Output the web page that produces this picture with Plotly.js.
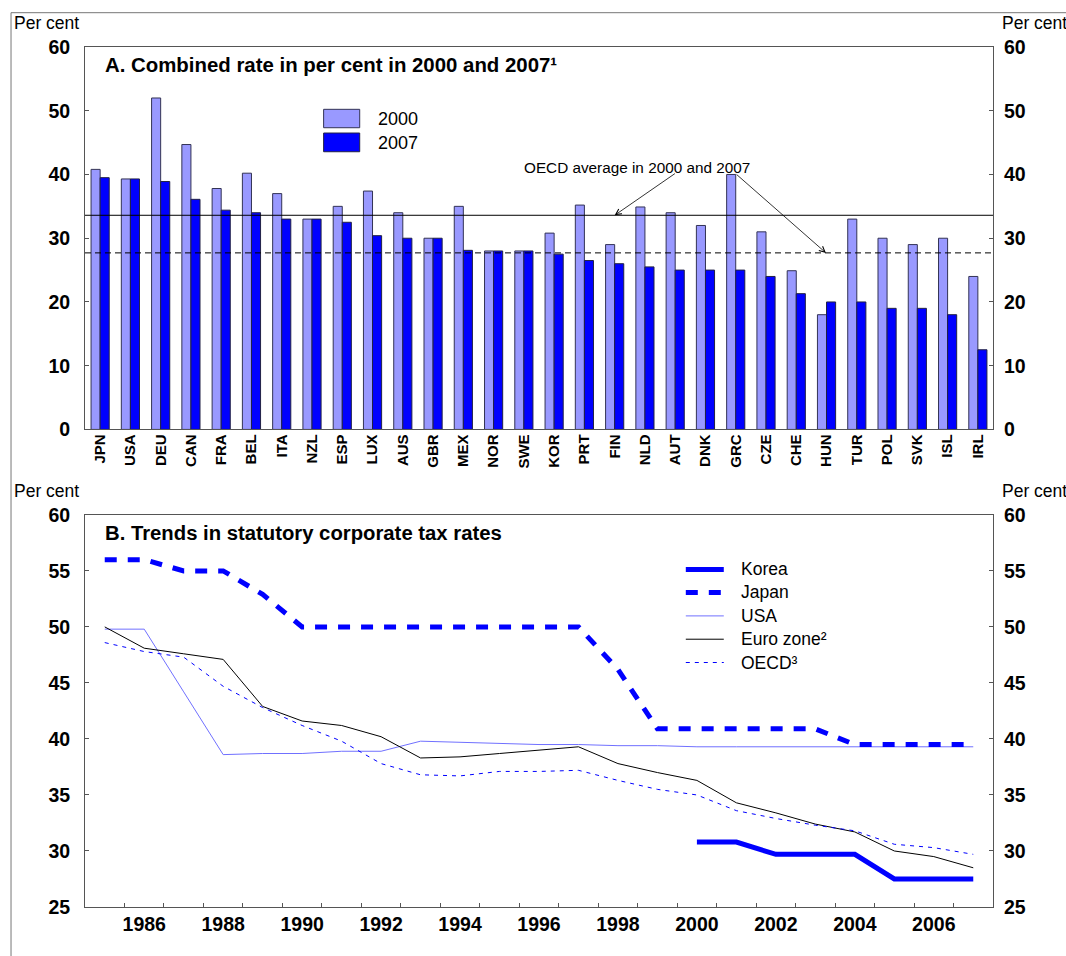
<!DOCTYPE html>
<html>
<head>
<meta charset="utf-8">
<script src="https://cdn.plot.ly/plotly-3.0.1.min.js"></script>
<style>
  html, body { margin: 0; padding: 0; background: #fff; }
  #chart { width: 1066px; height: 956px; }
</style>
</head>
<body>
<div id="chart"></div>
<script>
// ---------- Data ----------
const countries = ['JPN','USA','DEU','CAN','FRA','BEL','ITA','NZL','ESP','LUX','AUS','GBR','MEX','NOR','SWE','KOR','PRT','FIN','NLD','AUT','DNK','GRC','CZE','CHE','HUN','TUR','POL','SVK','ISL','IRL'];
const rate2000 = [40.8,39.3,52.0,44.7,37.8,40.2,37.0,33.0,35.0,37.4,34.0,30.0,35.0,28.0,28.0,30.8,35.2,29.0,34.9,34.0,32.0,40.0,31.0,24.9,18.0,33.0,30.0,29.0,30.0,24.0];
const rate2007 = [39.5,39.3,38.9,36.1,34.4,34.0,33.0,33.0,32.5,30.4,30.0,30.0,28.1,28.0,28.0,27.5,26.5,26.0,25.5,25.0,25.0,25.0,24.0,21.3,20.0,20.0,19.0,19.0,18.0,12.5];
const oecdAvg2000 = 33.6;
const oecdAvg2007 = 27.7;

const years = [1985,1986,1987,1988,1989,1990,1991,1992,1993,1994,1995,1996,1997,1998,1999,2000,2001,2002,2003,2004,2005,2006,2007];
const korea = [null,null,null,null,null,null,null,null,null,null,null,null,null,null,null,30.8,30.8,29.7,29.7,29.7,27.5,27.5,27.5];
const japan = [56,56,55,55,52.9,50,50,50,50,50,50,50,50,46.2,40.9,40.9,40.9,40.9,40.9,39.5,39.5,39.5,39.5];
const usa = [49.8,49.8,44.2,38.6,38.7,38.7,38.9,38.9,39.8,39.7,39.6,39.5,39.5,39.4,39.4,39.3,39.3,39.3,39.3,39.3,39.3,39.3,39.3];
const euroZone = [50.0,48.1,47.6,47.1,42.9,41.6,41.2,40.2,38.3,38.4,38.7,39.0,39.3,37.8,37.0,36.3,34.3,33.4,32.4,31.7,30.0,29.5,28.5];
const oecd = [48.6,47.8,47.3,44.7,42.8,41.2,39.8,37.8,36.8,36.7,37.1,37.1,37.2,36.3,35.5,35.0,33.6,32.9,32.3,31.8,30.6,30.3,29.7];

const yTicksA = [0,10,20,30,40,50,60];
const yTicksB = [25,30,35,40,45,50,55,60];
const xLabelYears = [1986,1988,1990,1992,1994,1996,1998,2000,2002,2004,2006];

// ---------- Styles ----------
const FONT = 'Liberation Sans, Arial, Helvetica, sans-serif';
const C2000 = '#9999FF';
const C2007 = '#0000FF';
const AXC = '#555555';

// layout geometry (pixels)
const W = 1066, H = 956;
const PL = 85, PR = 993.3, PT = 47, PB = 906.7;
const px = x => (x - PL) / (PR - PL);
const py = y => (PB - y) / (PB - PT);
const domA = [py(429.3), 1];
const domB = [0, py(514.7)];

const series = [
  {name: 'Korea', y: korea, color: '#0000FF', width: 5, dash: 'solid'},
  {name: 'Japan', y: japan, color: '#0000FF', width: 5, dash: '12px,11px'},
  {name: 'USA', y: usa, color: '#7070FF', width: 1, dash: 'solid'},
  {name: 'Euro zone²', y: euroZone, color: '#000000', width: 1, dash: 'solid'},
  {name: 'OECD³', y: oecd, color: '#0000FF', width: 1, dash: '4px,5px'}
];

const traces = [
  {type: 'bar', x: countries, y: rate2000, name: '2000', xaxis: 'x', yaxis: 'y',
   marker: {color: C2000, line: {color: '#333355', width: 1}}, hoverinfo: 'x+y'},
  {type: 'bar', x: countries, y: rate2007, name: '2007', xaxis: 'x', yaxis: 'y',
   marker: {color: C2007, line: {color: '#222244', width: 1}}, hoverinfo: 'x+y'},
  // invisible carriers so the right-hand axes are drawn
  {type: 'scatter', mode: 'markers', x: countries, y: rate2000, xaxis: 'x', yaxis: 'y3',
   marker: {opacity: 0, size: 1}, hoverinfo: 'skip', showlegend: false},
  {type: 'scatter', mode: 'markers', x: years, y: usa, xaxis: 'x2', yaxis: 'y4',
   marker: {opacity: 0, size: 1}, hoverinfo: 'skip', showlegend: false}
];
// draw lines in back-to-front order so thick lines sit on top
[2,3,4,1,0].forEach(i => {
  const s = series[i];
  traces.push({type: 'scatter', mode: 'lines', x: years, y: s.y, name: s.name,
    xaxis: 'x2', yaxis: 'y2', connectgaps: false,
    line: {color: s.color, width: s.width, dash: s.dash}});
});

const tickFont = {family: FONT, size: 19.5, color: '#000', weight: 'bold'};

function yAx(dom, range, ticks, side, overlay, anchor) {
  const a = {
    domain: dom, range: range, tickmode: 'array', tickvals: ticks,
    ticks: 'inside', ticklen: 4, tickcolor: AXC, tickwidth: 1,
    showgrid: false, zeroline: false, showline: !overlay, mirror: !overlay,
    linecolor: AXC, linewidth: 1, tickfont: tickFont, ticklabelstandoff: 10,
    side: side, anchor: anchor, fixedrange: true
  };
  if (overlay) a.overlaying = overlay;
  return a;
}

const shapes = [
  // outer frame
  {type: 'line', xref: 'paper', yref: 'paper', x0: px(11), x1: px(1100), y0: py(12.7), y1: py(12.7), line: {color: '#777', width: 1}},
  {type: 'line', xref: 'paper', yref: 'paper', x0: px(11), x1: px(11), y0: py(12.7), y1: py(1000), line: {color: '#777', width: 1}},
  // OECD averages
  {type: 'line', xref: 'x domain', yref: 'y', x0: 0, x1: 1, y0: oecdAvg2000, y1: oecdAvg2000, line: {color: '#000', width: 1}},
  {type: 'line', xref: 'x domain', yref: 'y', x0: 0, x1: 1, y0: oecdAvg2007, y1: oecdAvg2007, line: {color: '#000', width: 1, dash: '6px,4px'}},
  // legend A swatches
  {type: 'rect', xref: 'paper', yref: 'paper', x0: px(323.7), x1: px(359.8), y0: py(127.7), y1: py(109.3), fillcolor: C2000, line: {color: '#333355', width: 1}},
  {type: 'rect', xref: 'paper', yref: 'paper', x0: px(323.7), x1: px(359.8), y0: py(151.7), y1: py(133), fillcolor: C2007, line: {color: '#222244', width: 1}}
];

const annotations = [
  // Per cent labels
  {xref: 'paper', yref: 'paper', x: px(12), y: py(22.7), xanchor: 'left', yanchor: 'middle', text: 'Per cent', showarrow: false, font: {family: FONT, size: 17.5, color: '#000'}},
  {xref: 'paper', yref: 'paper', x: px(1000.7), y: py(22.7), xanchor: 'left', yanchor: 'middle', text: 'Per cent', showarrow: false, font: {family: FONT, size: 17.5, color: '#000'}},
  {xref: 'paper', yref: 'paper', x: px(12), y: py(490.7), xanchor: 'left', yanchor: 'middle', text: 'Per cent', showarrow: false, font: {family: FONT, size: 17.5, color: '#000'}},
  {xref: 'paper', yref: 'paper', x: px(1000.7), y: py(490.7), xanchor: 'left', yanchor: 'middle', text: 'Per cent', showarrow: false, font: {family: FONT, size: 17.5, color: '#000'}},
  // panel titles
  {xref: 'paper', yref: 'paper', x: px(103), y: py(65), xanchor: 'left', yanchor: 'middle', text: 'A. Combined rate in per cent in 2000 and 2007¹', showarrow: false, font: {family: FONT, size: 20.4, color: '#000', weight: 'bold'}},
  {xref: 'paper', yref: 'paper', x: px(103), y: py(533.3), xanchor: 'left', yanchor: 'middle', text: 'B. Trends in statutory corporate tax rates', showarrow: false, font: {family: FONT, size: 20.3, color: '#000', weight: 'bold'}},
  // legend A labels
  {xref: 'paper', yref: 'paper', x: px(376), y: py(118.5), xanchor: 'left', yanchor: 'middle', text: '2000', showarrow: false, font: {family: FONT, size: 18, color: '#000'}},
  {xref: 'paper', yref: 'paper', x: px(376), y: py(142.5), xanchor: 'left', yanchor: 'middle', text: '2007', showarrow: false, font: {family: FONT, size: 18, color: '#000'}},
  // OECD average annotation text and arrows
  {xref: 'paper', yref: 'paper', x: px(636.7), y: py(167.7), xanchor: 'center', yanchor: 'middle', text: 'OECD average in 2000 and 2007', showarrow: false, font: {family: FONT, size: 15.3, color: '#000'}},
  {xref: 'x', yref: 'y', x: 17.0, y: oecdAvg2000, axref: 'x', ayref: 'y', ax: 19.04, ay: 40.3, text: '', showarrow: true, arrowhead: 5, arrowsize: 1.4, arrowwidth: 0.8, arrowcolor: '#000', standoff: 0},
  {xref: 'x', yref: 'y', x: 23.98, y: oecdAvg2007, axref: 'x', ayref: 'y', ax: 20.98, ay: 40.2, text: '', showarrow: true, arrowhead: 5, arrowsize: 1.4, arrowwidth: 0.8, arrowcolor: '#000', standoff: 0}
];

// legend B (custom)
const legRowsY = [569.3, 592.3, 615.7, 639, 662.3];
series.forEach((s, i) => {
  shapes.push({type: 'line', xref: 'paper', yref: 'paper', x0: px(686), x1: px(724), y0: py(legRowsY[i]), y1: py(legRowsY[i]),
    line: {color: s.color, width: s.width, dash: s.dash}});
  annotations.push({xref: 'paper', yref: 'paper', x: px(739.5), y: py(legRowsY[i]), xanchor: 'left', yanchor: 'middle',
    text: s.name, showarrow: false, font: {family: FONT, size: 17.5, color: '#000'}});
});

const layout = {
  width: W, height: H,
  margin: {l: PL, r: W - PR, t: PT, b: H - PB, pad: 0},
  paper_bgcolor: '#fff', plot_bgcolor: '#fff',
  showlegend: false,
  barmode: 'group', bargap: 0.4, bargroupgap: 0,
  font: {family: FONT, color: '#000'},
  xaxis: {
    domain: [0, 1], anchor: 'y', type: 'category', tickangle: -90,
    range: [-0.5, countries.length - 0.5],
    tickfont: {family: FONT, size: 15, color: '#000', weight: 'bold'},
    ticks: '', showline: true, mirror: true, linecolor: AXC, linewidth: 1,
    showgrid: false, zeroline: false, fixedrange: true, ticklabelstandoff: -2
  },
  yaxis: yAx(domA, [0, 60], yTicksA, 'left', null, 'x'),
  yaxis3: yAx(domA, [0, 60], yTicksA, 'right', 'y', 'x'),
  xaxis2: {
    domain: [0, 1], anchor: 'y2', range: [1984.5, 2007.5],
    tickmode: 'array', tickvals: xLabelYears, ticks: '',
    minor: {tickmode: 'array', tickvals: years.slice(0, -1).map(y => y + 0.5), ticks: 'inside', ticklen: 4, tickcolor: AXC, tickwidth: 1, showgrid: false},
    tickfont: tickFont, showline: true, mirror: true, linecolor: AXC, linewidth: 1,
    showgrid: false, zeroline: false, fixedrange: true, ticklabelstandoff: 0
  },
  yaxis2: yAx(domB, [25, 60], yTicksB, 'left', null, 'x2'),
  yaxis4: yAx(domB, [25, 60], yTicksB, 'right', 'y2', 'x2'),
  shapes: shapes,
  annotations: annotations
};

Plotly.newPlot('chart', traces, layout, {displayModeBar: false, staticPlot: true});
</script>
</body>
</html>
